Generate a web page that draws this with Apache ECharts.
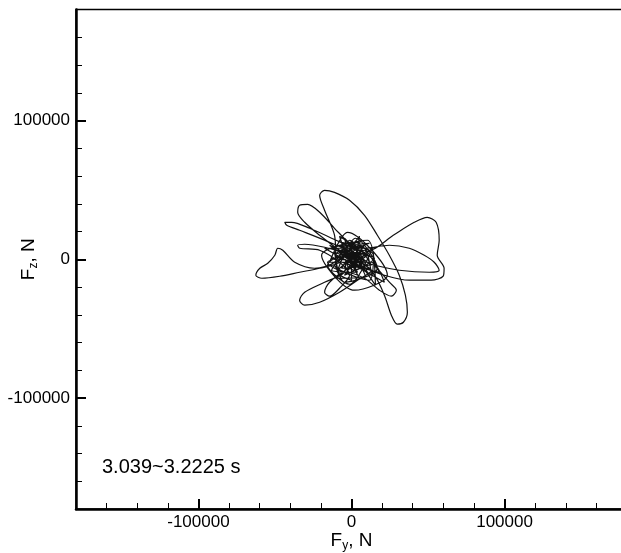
<!DOCTYPE html>
<html>
<head>
<meta charset="utf-8">
<script src="https://cdn.jsdelivr.net/npm/echarts@6/dist/echarts.min.js"></script>
<style>
html,body{margin:0;padding:0;background:#fff;}
#chart{width:621px;height:553px;}
</style>
</head>
<body>
<div id="chart"></div>
<script>
// Trajectory of the force vector (Fy, Fz) in N
const fy = [
  0, 10416, -2604, 5208, 6510, -7812, 11718, -4557, 13020, 3906,
  11700, 27300, 41000, 49500, 55300, 57300, 56000, 60500, 59900, 52100, 37800, 21500, 6500, -1300,
  5208, -11067, 8463, -4557, 14973, -9114, 10416, 0, 0, -9114,
  -11100, -17600, -20800, -17600, -11100, -1300, 8500, 16900, 24700, 31200, 35200, 36500, 33900, 29900, 26040, 21500, 15000, 6500,
  -14322, 13020, 8463, -9114, 2604, 16926, -4557, -11067, 6510, -1302,
  -11100, -24100, -37100, -44900, -48200, -50100, -54700, -59900, -62500, -58600, -46900, -33900, -20800, -7800,
  -13020, 7812, -6510, 2604, 2604, -3906, 6510, -1302, 3906, -3255,
  -4600, -17600, -30600, -33900, -30600, -20800, -7800, 3900, 13020, 5208,
  -7800, -20800, -30600, -35154, -33900, -28644, -20800, -11100, -1300,
  1953, -10416, 6510, -6510, 15624, -2604, 9114, -10416, 13671, -1302, -15624, 11718, -12369, 7812, -4557, 1302, 5208, -5208, 5859, 0,
  -17577, 21483, 13020, -14322, -2604, 23436, 1953, -19530, 10416, 15624,
  -1300, -17600, -33900, -42315, -43617, -39060, -27342, -13020, 1953,
  -15624, 11718, 14322, -6510, 3906, -13020, 5208, 18228, 0, -7812,
  8463, 24738, 37758, 47523, 54033, 57288, 50778, 31248, 14973,
  24738, 29295, 26040, 18228, 8463,
  -4557, -14322, -17577, -14322, -7812, -1302,
  -20832, -33852, -35154, -30597, -17577, -1302,
  4000, 9000, 2000, -3000, 1000
];
const fz = [
  0, 2880, -7920, 7920, -6480, -720, 6480, 10080, -4320, 12240,
  6500, 17300, 26600, 30200, 26600, 13700, 2900, -6500, -12200, -15100, -15100, -11500, -5000, -700,
  -13680, -4320, 10080, -11520, 720, 6480, -9360, 13680, -15120, -9360,
  17300, 35300, 46100, 49700, 48200, 42500, 31700, 17300, 2900, -11500, -25900, -38200, -45400, -46800, -40300, -25900, -11500, -2200,
  10080, -11520, 6480, -7920, 15120, -6480, -16560, 5040, -2160, 13680,
  -2200, -6480, -2200, 6500, 7920, 2900, -2900, -6500, -11500, -13680, -12240, -9360, -6480, -2200,
  720, -2160, 9360, -7920, 5040, -3600, 2160, 5040, -5040, 720,
  -9360, -16560, -23760, -29520, -33120, -30960, -23760, -15120, -7920, -2160,
  6480, 17280, 26640, 33840, 38880, 39600, 33840, 22320, 10080,
  -2160, 2880, 13680, -6480, -2160, 11520, -12240, -13680, 7920, -18000, -4320, 11520, 7920, 720, 15120, -5040, 16560, 2160, 5040, 7920,
  7920, -16560, -2160, -2160, 19440, -11520, -22320, 2880, 13680, -18720,
  5040, 13680, 20880, 24480, 26640, 26640, 22320, 15120, 6480,
  -2160, -15120, 2880, 12240, -9360, -7920, 10080, -9360, -2160, 16560,
  7920, 10080, 7920, 2880, -2160, -7920, -9360, -7920, -4320,
  -16560, -22320, -26640, -22320, -13680,
  -9360, -16560, -23760, -26640, -20880, -11520,
  6480, 7920, 10080, 10800, 8640, 3600,
  2000, -3000, -8000, -4000, 1000
];
const majorTicks = [-100000, 0, 100000];
const minorTicksX = [-160000, -140000, -120000, -80000, -60000, -40000, -20000, 20000, 40000, 60000, 80000, 120000, 140000, 160000];
const minorTicksY = [-160000, -140000, -120000, -80000, -60000, -40000, -20000, 20000, 40000, 60000, 80000, 120000, 140000, 160000];
const annotation = '3.039~3.2225 s';

const points = fy.map((v, i) => [v, fz[i]]);
const FONT = '"Liberation Sans", Arial, sans-serif';
const axisRange = { min: -180000, max: 180000 };
const plainLabel = v => String(v);

const chart = echarts.init(document.getElementById('chart'), null, { renderer: 'canvas' });

const nameRich = {
  a: { fontSize: 19, fontFamily: FONT, color: '#000' },
  s: { fontSize: 12, fontFamily: FONT, color: '#000', padding: [10, 0, 0, 0] }
};

chart.setOption({
  animation: false,
  backgroundColor: '#fff',
  grid: { left: 76, right: -6, top: 9.5, bottom: 44, show: true, borderColor: '#000', borderWidth: 1.5, containLabel: false, outerBoundsMode: 'none' },
  xAxis: [
    {
      type: 'value', ...axisRange, position: 'bottom',
      axisLine: { show: true, onZero: false, lineStyle: { color: '#000', width: 2.5 } },
      axisTick: { show: true, inside: true, length: 10, customValues: majorTicks, lineStyle: { color: '#000', width: 2 } },
      axisLabel: { show: true, customValues: majorTicks, formatter: plainLabel, fontSize: 17, fontFamily: FONT, color: '#000', margin: 5 },
      splitLine: { show: false },
      name: '{a|F}{s|y}{a|, N}', nameLocation: 'middle', nameGap: 21, nameMoveOverlap: false,
      nameTextStyle: { rich: nameRich }
    },
    {
      type: 'value', ...axisRange, position: 'bottom',
      axisLine: { show: false, onZero: false },
      axisTick: { show: true, inside: true, length: 6, customValues: minorTicksX, lineStyle: { color: '#000', width: 1 } },
      axisLabel: { show: false },
      splitLine: { show: false }
    }
  ],
  yAxis: [
    {
      type: 'value', ...axisRange, position: 'left',
      axisLine: { show: true, onZero: false, lineStyle: { color: '#000', width: 2.5 } },
      axisTick: { show: true, inside: true, length: 10, customValues: majorTicks, lineStyle: { color: '#000', width: 2 } },
      axisLabel: { show: true, customValues: majorTicks, formatter: plainLabel, fontSize: 17, fontFamily: FONT, color: '#000', margin: 6 },
      splitLine: { show: false },
      name: '{a|F}{s|z}{a|, N}', nameLocation: 'middle', nameGap: 36, nameRotate: 90, nameMoveOverlap: false,
      nameTextStyle: { rich: nameRich }
    },
    {
      type: 'value', ...axisRange, position: 'left',
      axisLine: { show: false, onZero: false },
      axisTick: { show: true, inside: true, length: 6, customValues: minorTicksY, lineStyle: { color: '#000', width: 1 } },
      axisLabel: { show: false },
      splitLine: { show: false }
    }
  ],
  graphic: [
    { type: 'text', left: 102, top: 457, style: { text: annotation, fontSize: 20, fontFamily: FONT, fill: '#000' } }
  ],
  series: [
    {
      type: 'line', xAxisIndex: 0, yAxisIndex: 0, data: points,
      showSymbol: false, smooth: 0.3,
      lineStyle: { color: '#111', width: 1.2 }
    }
  ]
});
</script>
</body>
</html>
